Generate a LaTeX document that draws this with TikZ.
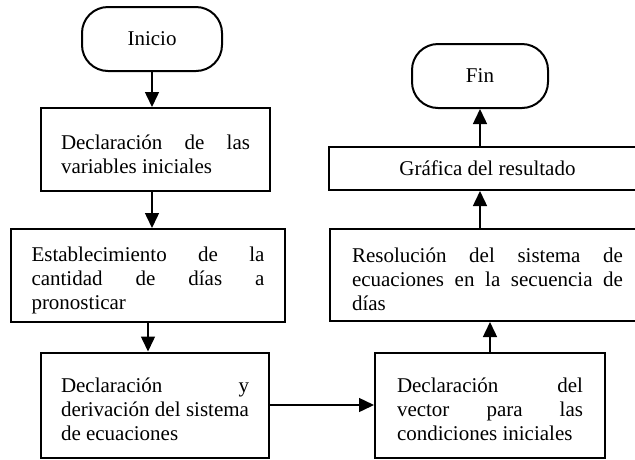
\documentclass[tikz,border=0pt]{standalone}
\usepackage{fontspec}
\setmainfont{Liberation Serif}
\usetikzlibrary{arrows.meta}
\hyphenpenalty=10000
\exhyphenpenalty=10000
\tolerance=9999
\pretolerance=-1
\newcommand{\lowstrut}{\rule{0pt}{24pt}}
\begin{document}
\begin{tikzpicture}[x=1pt,y=-1pt,
  txt/.style={font=\fontsize{21}{24}\selectfont},
  box/.style={txt, draw, line width=2pt, rectangle, inner sep=0pt, align=justify},
  term/.style={txt, draw, line width=2pt, rectangle, rounded corners=26pt, minimum height=64pt},
  flow/.style={line width=1.5pt, -{Triangle[width=14pt,length=15pt]}}]
\useasboundingbox (0,0) rectangle (635,459);
\clip (0,0) rectangle (635,459);
\node[term, minimum width=140pt] (ini) at (152,39) {Inicio};
\node[box, text width=189pt, minimum width=229pt, minimum height=83pt] (b1) at (155.5,149.5)
  {\lowstrut Declaración de las\linebreak variables iniciales};
\node[box, text width=233pt, minimum width=274pt, minimum height=93pt] (b2) at (148,275.5)
  {\lowstrut Establecimiento de la\linebreak cantidad de días a\linebreak pronosticar};
\node[box, text width=188pt, minimum width=228pt, minimum height=105pt] (b3) at (155,405)
  {\lowstrut Declaración y\linebreak derivación del sistema\linebreak de ecuaciones};
\node[box, text width=186pt, minimum width=230pt, minimum height=105pt] (b4) at (490,405)
  {\lowstrut Declaración del\linebreak vector para las\linebreak condiciones iniciales};
\node[box, text width=271pt, minimum width=315pt, minimum height=92pt] (b5) at (487.5,275)
  {\lowstrut Resolución del sistema de\linebreak ecuaciones en la secuencia de\linebreak días};
\node[txt, draw, line width=2pt, rectangle, minimum width=317pt, minimum height=43pt] (b6) at (487.5,168.5)
  {Gráfica del resultado};
\node[term, minimum width=136pt] (fin) at (480,76) {Fin};

\draw[flow] (ini.south) -- (ini.south |- b1.north);
\draw[flow] (ini.south |- b1.south) -- (ini.south |- b2.north);
\draw[flow] (b2.south) -- (b2.south |- b3.north);
\draw[flow] (b3.east) -- (b4.west);
\draw[flow] (b4.north) -- (b4.north |- b5.south);
\draw[flow] (fin.south |- b5.north) -- (fin.south |- b6.south);
\draw[flow] (fin.south |- b6.north) -- (fin.south);
\end{tikzpicture}
\end{document}
